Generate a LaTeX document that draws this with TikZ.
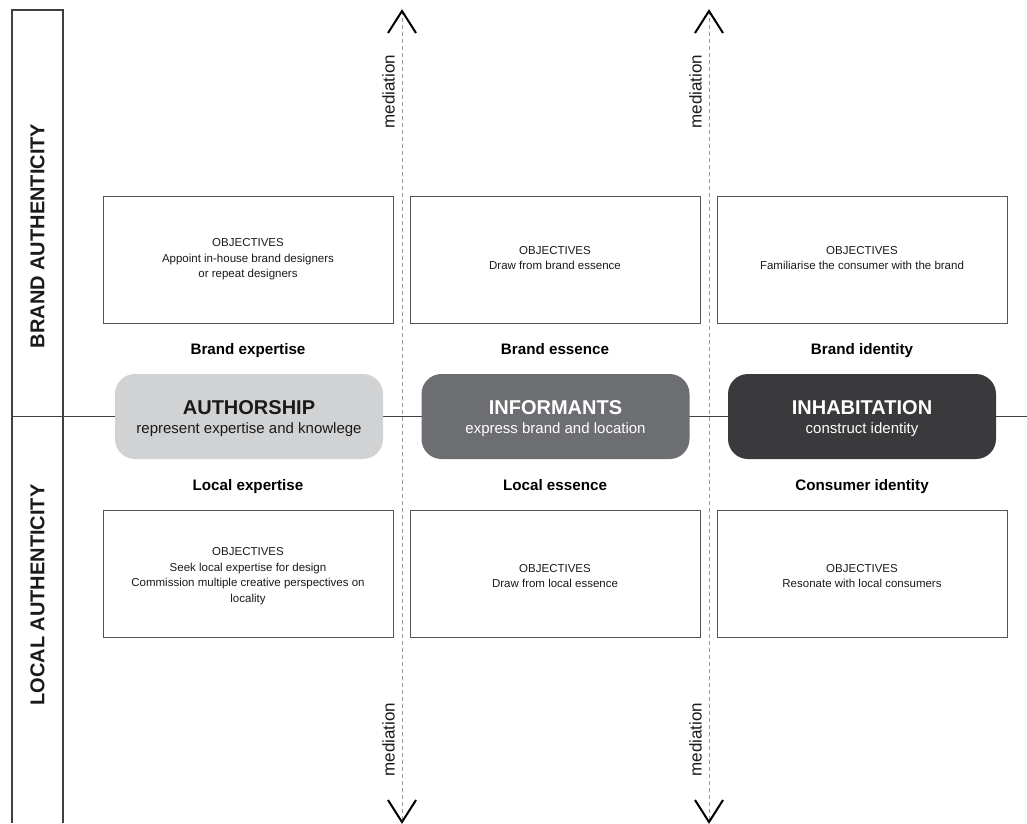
\documentclass[tikz,border=0pt]{standalone}
\usepackage{fontspec}
\setmainfont{Liberation Sans}
\usetikzlibrary{calc}
\definecolor{pillA}{HTML}{D1D2D4}
\definecolor{pillB}{HTML}{6D6E71}
\definecolor{pillC}{HTML}{3A3A3C}
\definecolor{frameC}{HTML}{404040}
\definecolor{boxC}{HTML}{555555}
\definecolor{dashC}{HTML}{9A9A9A}
\definecolor{txtC}{HTML}{1A1A1A}
\tikzset{
  frameline/.style={draw=frameC, line width=1.3pt},
  objbox/.style={draw=boxC, line width=0.9pt, fill=white, minimum width=290pt, minimum height=127pt, inner sep=0pt},
  objtext/.style={font=\fontsize{11.5}{15.5}\selectfont, text=txtC, align=center, inner sep=0pt},
  sublabel/.style={font=\fontsize{15.2}{17}\selectfont\bfseries, text=black, inner sep=0pt, anchor=base},
  pill/.style={rounded corners=20pt, minimum width=268pt, minimum height=85pt, inner sep=0pt},
  pilltitle/.style={font=\fontsize{20}{22}\selectfont\bfseries, inner sep=0pt, anchor=base},
  pillsub/.style={font=\fontsize{15}{18}\selectfont, inner sep=0pt, anchor=base},
  sidelabel/.style={font=\fontsize{20}{22}\selectfont\bfseries, rotate=90, text=txtC, inner sep=0pt},
  medlabel/.style={font=\fontsize{17}{19}\selectfont, rotate=90, text=txtC, inner sep=0pt},
  medline/.style={draw=dashC, line width=1pt, dash pattern=on 4pt off 3pt},
  chev/.style={draw=black, line width=2pt, line cap=butt, line join=miter}
}
\begin{document}
\begin{tikzpicture}[x=1pt,y=-1pt]
\useasboundingbox[fill=white] (0,0) rectangle (1027,823);

% side frame and axis
\coordinate (ftl) at (12,10);
\coordinate (ftr) at (63,10);
\coordinate (fbl) at (12,823);
\coordinate (fbr) at (63,823);
\coordinate (axl) at (12,416.5);
\coordinate (axr) at (1027,416.5);
\draw[frameline] (fbl) -- (ftl) -- (ftr) -- (fbr);
\draw[frameline] (axl) -- (axr);

\node[sidelabel] (brandauth) at (37.5,236) {BRAND AUTHENTICITY};
\node[sidelabel] (localauth) at (37.5,595) {LOCAL AUTHENTICITY};

% mediation lines
\coordinate (m1t) at (402,11);
\coordinate (m1b) at (402,822);
\coordinate (m2t) at (709,11);
\coordinate (m2b) at (709,822);
\draw[medline] (m1t) -- (m1b);
\draw[medline] (m2t) -- (m2b);
\foreach \c in {m1t,m2t}{
  \draw[chev] ([shift={(-14,22)}]\c) -- (\c) -- ([shift={(14,22)}]\c);
}
\foreach \c in {m1b,m2b}{
  \draw[chev] ([shift={(-14,-22)}]\c) -- (\c) -- ([shift={(14,-22)}]\c);
}
\node[medlabel] (med1t) at (388.5,91.5) {mediation};
\node[medlabel] (med2t) at (695.5,91.5) {mediation};
\node[medlabel] (med1b) at (388.5,739.5) {mediation};
\node[medlabel] (med2b) at (695.5,739.5) {mediation};

% objective boxes
\node[objbox] (tb1) at (248,259.5) {};
\node[objbox] (tb2) at (555,259.5) {};
\node[objbox] (tb3) at (862,259.5) {};
\node[objbox] (bb1) at (248,574) {};
\node[objbox] (bb2) at (555,574) {};
\node[objbox] (bb3) at (862,574) {};

\node[objtext] (tt1) at ($(tb1.center)+(0,0)$) {OBJECTIVES\\Appoint in-house brand designers\\or repeat designers};
\node[objtext] (tt2) at ($(tb2.center)+(0,-1.5)$) {OBJECTIVES\\Draw from brand essence};
\node[objtext] (tt3) at ($(tb3.center)+(0,-1.5)$) {OBJECTIVES\\Familiarise the consumer with the brand};
\node[objtext] (bt1) at ($(bb1.center)+(0,2)$) {OBJECTIVES\\Seek local expertise for design\\Commission multiple creative perspectives on\\locality};
\node[objtext] (bt2) at ($(bb2.center)+(0,2)$) {OBJECTIVES\\Draw from local essence};
\node[objtext] (bt3) at ($(bb3.center)+(0,2)$) {OBJECTIVES\\Resonate with local consumers};

% sub labels
\node[sublabel] (l1) at (248,354) {Brand expertise};
\node[sublabel] (l2) at (555,354) {Brand essence};
\node[sublabel] (l3) at (862,354) {Brand identity};
\node[sublabel] (l4) at (248,490.5) {Local expertise};
\node[sublabel] (l5) at (555,490.5) {Local essence};
\node[sublabel] (l6) at (862,490.5) {Consumer identity};

% pills
\node[pill, fill=pillA] (p1) at (249,416.5) {};
\node[pill, fill=pillB] (p2) at (555.5,416.5) {};
\node[pill, fill=pillC] (p3) at (862,416.5) {};
\node[pilltitle, text=txtC] (p1t) at ($(p1.center)+(0,-2.5)$) {AUTHORSHIP};
\node[pillsub, text=txtC] (p1s) at ($(p1.center)+(0,16.5)$) {represent expertise and knowlege};
\node[pilltitle, text=white] (p2t) at ($(p2.center)+(0,-2.5)$) {INFORMANTS};
\node[pillsub, text=white] (p2s) at ($(p2.center)+(0,16.5)$) {express brand and location};
\node[pilltitle, text=white] (p3t) at ($(p3.center)+(0,-2.5)$) {INHABITATION};
\node[pillsub, text=white] (p3s) at ($(p3.center)+(0,16.5)$) {construct identity};
\end{tikzpicture}
\end{document}
